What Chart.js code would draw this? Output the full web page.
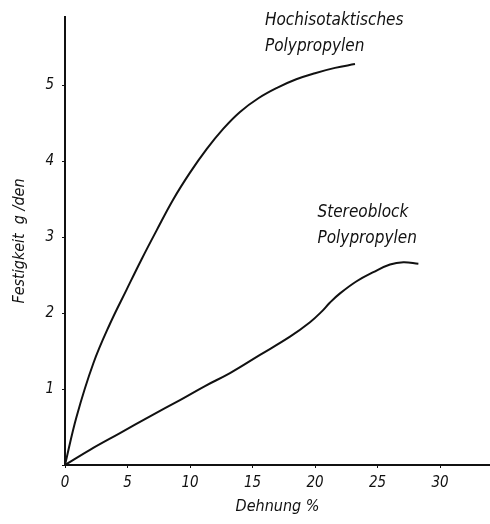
<!DOCTYPE html>
<html>
<head>
<meta charset="utf-8">
<script src="https://cdn.jsdelivr.net/npm/chart.js@4/dist/chart.umd.min.js"></script>
<style>
  html, body { margin: 0; padding: 0; background: #fff; }
  #wrap { width: 490px; height: 524px; }
</style>
</head>
<body>
<div id="wrap"><canvas id="chart"></canvas></div>
<script>
// Dehnung (%) / Festigkeit (g/den)
const isoX = [0, 0.93, 2.27, 3.6, 4.93, 6.13, 7.33, 8.67, 10, 11.33, 12.67, 14, 15.47, 17, 18.5, 20, 21.6, 23.2];
const isoY = [0, 0.64, 1.34, 1.86, 2.31, 2.71, 3.09, 3.5, 3.85, 4.16, 4.43, 4.65, 4.83, 4.97, 5.08, 5.16, 5.23, 5.28];
const stereoX = [0, 2, 4.4, 6.8, 9.2, 11.2, 13.2, 15.6, 18, 19.6, 20.53, 21.2, 22, 23.33, 24.67, 26, 27.07, 28.27];
const stereoY = [0, 0.2, 0.42, 0.64, 0.855, 1.04, 1.21, 1.45, 1.69, 1.88, 2.02, 2.14, 2.26, 2.42, 2.54, 2.64, 2.67, 2.65];
const xTicks = [0, 5, 10, 15, 20, 25, 30];
const yTicks = [0, 1, 2, 3, 4, 5];
const curveLabels = [
  { lines: ['Hochisotaktisches', 'Polypropylen'], x: 16, y: 5.8 },
  { lines: ['Stereoblock', 'Polypropylen'], x: 20.2, y: 3.26 }
];

const FONT = "'Liberation Sans Narrow', 'DejaVu Sans Condensed', 'Liberation Sans', sans-serif";

function toPoints(xs, ys) {
  return xs.map(function(x, i) { return { x: x, y: ys[i] }; });
}

const labelPlugin = {
  id: 'curveLabels',
  afterDatasetsDraw: function(chart) {
    const ctx = chart.ctx;
    const xs = chart.scales.x, ys = chart.scales.y;
    ctx.save();
    ctx.fillStyle = '#111';
    ctx.font = 'italic 17px ' + FONT;
    ctx.textBaseline = 'alphabetic';
    curveLabels.forEach(function(l) {
      const px = xs.getPixelForValue(l.x);
      const py = ys.getPixelForValue(l.y);
      l.lines.forEach(function(t, i) {
        ctx.fillText(t, px, py + i * 26);
      });
    });
    ctx.restore();
  }
};

new Chart(document.getElementById('chart'), {
  type: 'scatter',
  data: {
    datasets: [
      { data: toPoints(isoX, isoY), showLine: true, borderColor: '#111', borderWidth: 2,
        pointRadius: 0, tension: 0.4 },
      { data: toPoints(stereoX, stereoY), showLine: true, borderColor: '#111', borderWidth: 2,
        pointRadius: 0, tension: 0.4 }
    ]
  },
  options: {
    responsive: true,
    maintainAspectRatio: false,
    animation: false,
    layout: { padding: { top: 17, right: 0, left: 0, bottom: 0 } },
    plugins: { legend: { display: false }, tooltip: { enabled: false } },
    scales: {
      x: {
        type: 'linear', min: 0, max: 34,
        afterBuildTicks: function(s) { s.ticks = xTicks.map(function(v) { return { value: v }; }); },
        afterFit: function(s) { s.height = 59; },
        border: { display: true, color: '#111', width: 2 },
        grid: { drawOnChartArea: false, drawTicks: true, tickLength: 3, color: '#111' },
        ticks: { color: '#111', padding: 6, font: { family: FONT, size: 15, style: 'italic' } },
        title: { display: true, text: 'Dehnung %', color: '#111', padding: { top: 0, bottom: 8 },
          font: { family: FONT, size: 16, style: 'italic' } }
      },
      y: {
        type: 'linear', min: 0, max: 5.9,
        afterBuildTicks: function(s) { s.ticks = yTicks.map(function(v) { return { value: v }; }); },
        afterFit: function(s) { s.width = 65; },
        border: { display: true, color: '#111', width: 2 },
        grid: { drawOnChartArea: false, drawTicks: true, tickLength: 3, color: '#111' },
        ticks: { color: '#111', padding: 8, font: { family: FONT, size: 15, style: 'italic' },
          callback: function(v) { return v === 0 ? '' : v; } },
        title: { display: true, text: 'Festigkeit  g /den', color: '#111', padding: { top: 10, bottom: 4 },
          font: { family: FONT, size: 16, style: 'italic' } }
      }
    }
  },
  plugins: [labelPlugin]
});
</script>
</body>
</html>
